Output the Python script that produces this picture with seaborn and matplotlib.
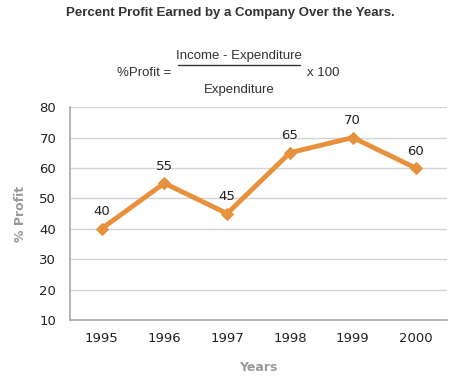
import matplotlib
matplotlib.use('Agg')
import matplotlib.pyplot as plt
import seaborn as sns
import pandas as pd

years = ['1995', '1996', '1997', '1998', '1999', '2000']
profit = [40, 55, 45, 65, 70, 60]
y_ticks = [10, 20, 30, 40, 50, 60, 70, 80]

df = pd.DataFrame({'Years': years, 'Profit': profit})

sns.set_style('white')
fig = plt.figure(figsize=(4.74, 3.80), dpi=100)
ax = fig.add_axes([0.148, 0.158, 0.795, 0.560])

# horizontal gridlines
for t in y_ticks[1:]:
    ax.axhline(t, color='#d4d4d4', lw=1, zorder=0)

sns.lineplot(data=df, x='Years', y='Profit', ax=ax, color='#e8913c', lw=3.5,
             marker='D', markersize=6, markeredgecolor='#e8913c', sort=False)

for i, v in enumerate(profit):
    ax.annotate(str(v), (i, v), xytext=(0, 7.5), textcoords='offset points',
                ha='center', va='bottom', fontsize=9.5, color='#222222', family='DejaVu Sans')

ax.set_xlim(-0.5, 5.5)
ax.set_ylim(10, 80)
ax.set_yticks(y_ticks)
ax.set_xticks(range(len(years)))
ax.set_xticklabels(years)
ax.tick_params(axis='both', labelsize=9.5, colors='#222222', length=4, width=1, pad=6)
ax.tick_params(axis='y', length=4, direction='out')
ax.tick_params(axis='x', direction='inout', length=6)
for lab in ax.get_xticklabels() + ax.get_yticklabels():
    lab.set_color('#222222')
for s in ['top', 'right']:
    ax.spines[s].set_visible(False)
for s in ['left', 'bottom']:
    ax.spines[s].set_color('#a8a8a8')
    ax.spines[s].set_linewidth(1.2)
ax.tick_params(axis='both', color='#a8a8a8')

ax.set_xlabel('Years', fontsize=9, color='#999999', fontweight='bold', labelpad=11)
ax.set_ylabel('% Profit', fontsize=9, color='#999999', fontweight='bold', labelpad=9)

fig.text(0.487, 0.965, 'Percent Profit Earned by a Company Over the Years.', ha='center', va='center',
         fontsize=9.5, fontweight='bold', color='#333333', family='Liberation Sans')
fig.text(0.305, 0.808, '%Profit =', ha='center', va='center', fontsize=9.5, color='#333333', family='Liberation Sans')
fig.text(0.504, 0.853, 'Income - Expenditure', ha='center', va='center', fontsize=9.5, color='#333333', family='Liberation Sans')
fig.add_artist(plt.Line2D([0.376, 0.633], [0.829, 0.829], color='#333333', lw=1, transform=fig.transFigure))
fig.text(0.504, 0.763, 'Expenditure', ha='center', va='center', fontsize=9.5, color='#333333', family='Liberation Sans')
fig.text(0.683, 0.808, 'x 100', ha='center', va='center', fontsize=9.5, color='#333333', family='Liberation Sans')

fig.savefig('out.png', dpi=100)
